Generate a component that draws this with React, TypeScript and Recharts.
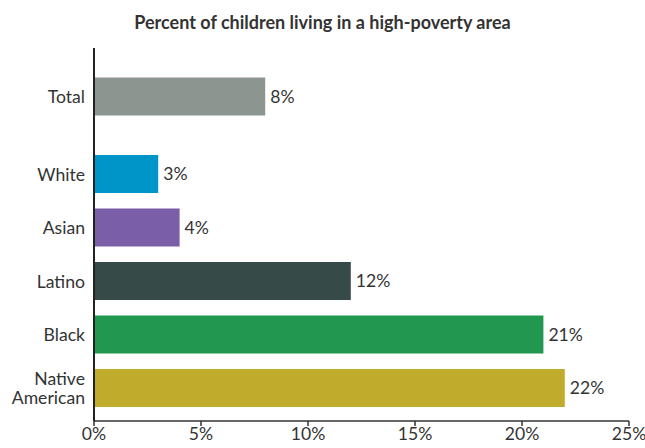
import { BarChart, Bar, XAxis, YAxis, Cell, LabelList } from "recharts";

const categories = ["Total", "White", "Asian", "Latino", "Black", "Native American"];
const values = [8, 3, 4, 12, 21, 22];
// row slots on the category axis (gap after Total)
const slots = [0, 1.45, 2.45, 3.45, 4.45, 5.45];
const colors = ["#8c9590", "#0095c8", "#7b5ea8", "#364a47", "#21974f", "#c0ab2a"];
const xTicks = [0, 5, 10, 15, 20, 25];

const data = categories.map((name, i) => ({ name, value: values[i], slot: slots[i] }));

if (typeof document !== "undefined") document.body.style.margin = "0";

const FONT = "Lato, 'Open Sans', sans-serif";
const FS = 17.6;

function CategoryTick({ x, y, payload }: any) {
  const idx = slots.indexOf(payload.value);
  if (idx < 0) return null;
  const name = categories[idx];
  const lines = name.length > 10 ? name.split(" ") : [name];
  const lh = 19;
  const start = y - ((lines.length - 1) * lh) / 2;
  return (
    <text x={x} y={start} textAnchor="end" fill="#333" fontSize={FS} fontFamily={FONT} dominantBaseline="central">
      {lines.map((l, i) => (
        <tspan key={i} x={x} y={start + i * lh}>
          {l}
        </tspan>
      ))}
    </text>
  );
}

export default function App() {
  return (
    <div style={{ width: 645, height: 448, position: "relative", background: "#fff", fontFamily: FONT }}>
      <div
        style={{
          position: "absolute",
          top: 11,
          left: 0,
          width: 645,
          textAlign: "center",
          fontSize: 18,
          fontWeight: 700,
          color: "#333",
        }}
      >
        Percent of children living in a high-poverty area
      </div>
      <BarChart
        width={645}
        height={448}
        data={data}
        layout="vertical"
        margin={{ top: 48, right: 16, bottom: 0, left: 0 }}
      >
        <XAxis
          type="number"
          dataKey="value"
          domain={[0, 25]}
          ticks={xTicks}
          height={27}
          tickFormatter={(v) => `${v}%`}
          tick={{ fill: "#333", fontSize: FS, fontFamily: FONT }}
          tickSize={5}
          axisLine={{ stroke: "#333", strokeWidth: 1.5 }}
          tickLine={{ stroke: "#333", strokeWidth: 1.5 }}
          interval={0}
        />
        <YAxis
          type="number"
          dataKey="slot"
          domain={[-0.9, 6.07]}
          ticks={slots}
          width={94}
          tick={<CategoryTick />}
          tickLine={false}
          tickMargin={3}
          axisLine={{ stroke: "#222", strokeWidth: 2 }}
          interval={0}
          allowDataOverflow
        />
        <Bar dataKey="value" barSize={38} isAnimationActive={false}>
          {data.map((d, i) => (
            <Cell key={d.name} fill={colors[i]} />
          ))}
          <LabelList
            dataKey="value"
            position="right"
            offset={5}
            formatter={(v: any) => `${v}%`}
            fill="#333"
            fontSize={FS}
            fontFamily={FONT}
          />
        </Bar>
      </BarChart>
    </div>
  );
}
